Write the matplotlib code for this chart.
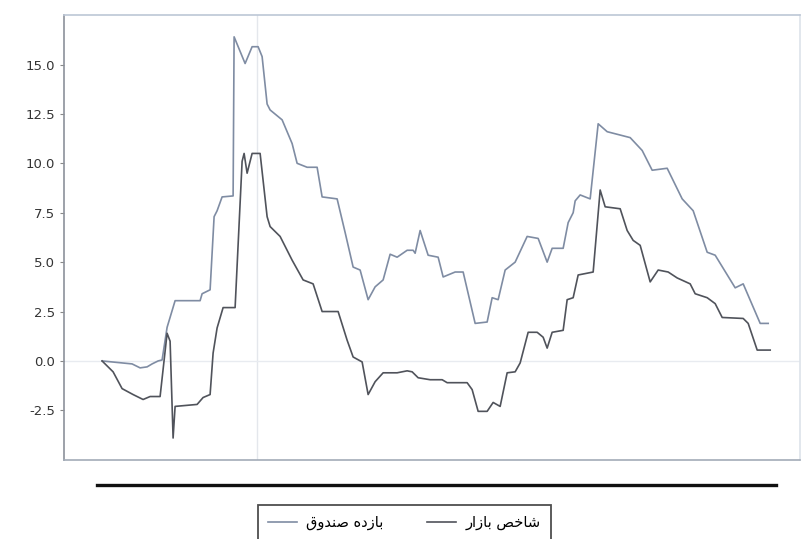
import matplotlib
matplotlib.use('agg')
import matplotlib.pyplot as plt
from matplotlib.lines import Line2D

# trading-day index and cumulative returns (%)
fund_t = [0, 10, 20, 30, 38, 45, 50, 56, 60, 65, 73, 98, 100, 108, 112, 115, 120, 131,
          132, 143, 150, 156, 160, 165, 168, 180, 190, 195, 205, 215, 220, 235, 243, 251,
          258, 266, 273, 281, 288, 295, 305, 311, 313, 318, 326, 336, 341, 353, 361, 373,
          385, 390, 396, 403, 413, 425, 436, 445, 450, 461, 466, 471, 473, 478, 488, 496,
          505, 528, 540, 550, 565, 580, 591, 605, 613, 633, 641, 658, 666]
fund_v = [0.0, -0.05, -0.1, -0.15, -0.35, -0.3, -0.15, 0.0, 0.05, 1.7, 3.05, 3.05, 3.4, 3.6,
          7.3, 7.6, 8.3, 8.35, 16.4, 15.05, 15.9, 15.9, 15.4, 13.0, 12.7, 12.2, 11.0, 10.0,
          9.8, 9.8, 8.3, 8.2, 6.5, 4.75, 4.6, 3.1, 3.75, 4.1, 5.4, 5.25, 5.6, 5.6, 5.45, 6.6,
          5.35, 5.25, 4.25, 4.5, 4.5, 1.9, 1.97, 3.2, 3.1, 4.6, 5.0, 6.3, 6.2, 5.0, 5.7, 5.7,
          7.0, 7.5, 8.1, 8.4, 8.2, 12.0, 11.6, 11.3, 10.65, 9.65, 9.75, 8.2, 7.6, 5.5, 5.35,
          3.7, 3.9, 1.9, 1.9]

mkt_t = [0, 11, 20, 31, 41, 48, 58, 65, 68, 71, 73, 95, 101, 108, 111, 115, 121, 133, 140,
         142, 145, 150, 158, 165, 168, 178, 185, 190, 201, 211, 220, 236, 245, 251, 260, 266,
         273, 281, 295, 305, 310, 316, 328, 340, 345, 365, 370, 376, 385, 391, 398, 405, 413,
         418, 426, 435, 441, 445, 450, 461, 465, 471, 476, 491, 498, 503, 518, 525, 531, 538,
         548, 556, 566, 575, 588, 593, 605, 613, 620, 641, 646, 655, 668]
mkt_v = [0.0, -0.55, -1.4, -1.7, -1.95, -1.8, -1.8, 1.4, 1.0, -3.9, -2.3, -2.2, -1.85, -1.7,
         0.4, 1.67, 2.7, 2.7, 10.1, 10.5, 9.5, 10.5, 10.5, 7.3, 6.8, 6.3, 5.6, 5.1, 4.1, 3.9,
         2.5, 2.5, 1.05, 0.2, -0.05, -1.7, -1.05, -0.6, -0.6, -0.5, -0.55, -0.85, -0.95,
         -0.95, -1.1, -1.1, -1.45, -2.55, -2.55, -2.1, -2.3, -0.6, -0.55, -0.1, 1.45, 1.45,
         1.2, 0.65, 1.45, 1.55, 3.1, 3.2, 4.35, 4.5, 8.65, 7.8, 7.7, 6.6, 6.1, 5.85, 4.0,
         4.6, 4.5, 4.2, 3.9, 3.4, 3.2, 2.9, 2.2, 2.15, 1.9, 0.55, 0.55]

labels = ['بازده صندوق', 'شاخص بازار']
yticks = [-2.5, 0.0, 2.5, 5.0, 7.5, 10.0, 12.5, 15.0]

# presentation forms: isolated, final, initial, medial
FORMS = {
    'ا': ('\uFE8D', '\uFE8E'), 'ب': ('\uFE8F', '\uFE90', '\uFE91', '\uFE92'),
    'ز': ('\uFEAF', '\uFEB0'), 'د': ('\uFEA9', '\uFEAA'),
    'ه': ('\uFEE9', '\uFEEA', '\uFEEB', '\uFEEC'), 'ص': ('\uFEB9', '\uFEBA', '\uFEBB', '\uFEBC'),
    'ن': ('\uFEE5', '\uFEE6', '\uFEE7', '\uFEE8'), 'و': ('\uFEED', '\uFEEE'),
    'ق': ('\uFED5', '\uFED6', '\uFED7', '\uFED8'), 'ش': ('\uFEB5', '\uFEB6', '\uFEB7', '\uFEB8'),
    'خ': ('\uFEA5', '\uFEA6', '\uFEA7', '\uFEA8'), 'ر': ('\uFEAD', '\uFEAE'),
}


def shape(s):
    out = []
    for i, c in enumerate(s):
        if c not in FORMS:
            out.append(c)
            continue
        prev = s[i - 1] if i > 0 else ''
        nxt = s[i + 1] if i + 1 < len(s) else ''
        jp = prev in FORMS and len(FORMS[prev]) == 4
        jn = len(FORMS[c]) == 4 and nxt in FORMS
        f = FORMS[c]
        if jp and jn:
            out.append(f[3])
        elif jp:
            out.append(f[1])
        elif jn:
            out.append(f[2])
        else:
            out.append(f[0])
    return ''.join(out)[::-1]


fig = plt.figure(figsize=(8.01, 5.39), dpi=100)
ax = fig.add_axes([0.080, 0.147, 0.919, 0.825])

ax.axvline(155, color='#e4e7ec', lw=1.0, zorder=0)
ax.axhline(0, color='#e8ebf0', lw=1.0, zorder=0)

ax.plot(fund_t, fund_v, color='#7f8ca3', lw=1.2, label=shape(labels[0]))
ax.plot(mkt_t, mkt_v, color='#50535b', lw=1.2, label=shape(labels[1]))

ax.set_xlim(-38, 698)
ax.set_ylim(-5.0, 17.5)
ax.set_xticks([])
ax.set_yticks(yticks)
ax.set_yticklabels(['%.1f' % v for v in yticks])
ax.tick_params(axis='y', length=3, color='#888', labelsize=9.5, labelcolor='#333')

for side, col in [('left', '#8c919b'), ('bottom', '#a3acb8'),
                  ('top', '#bcc7d6'), ('right', '#dde3ea')]:
    ax.spines[side].set_color(col)
    ax.spines[side].set_linewidth(1.2)

fig.add_artist(Line2D([97 / 801, 776 / 801], [1 - 485 / 539] * 2,
                      transform=fig.transFigure, color='#111', lw=2.4))

leg = fig.legend(loc='upper left', bbox_to_anchor=(258 / 801, 1 - 505 / 539), ncol=2,
                 frameon=True, fancybox=False, edgecolor='#222',
                 handlelength=2.0, handletextpad=0.6, columnspacing=3.0,
                 borderpad=0.7, borderaxespad=0,
                 prop={'family': 'DejaVu Sans', 'size': 10.5})
leg.get_frame().set_linewidth(1.3)

fig.savefig('out.png', dpi=100)
